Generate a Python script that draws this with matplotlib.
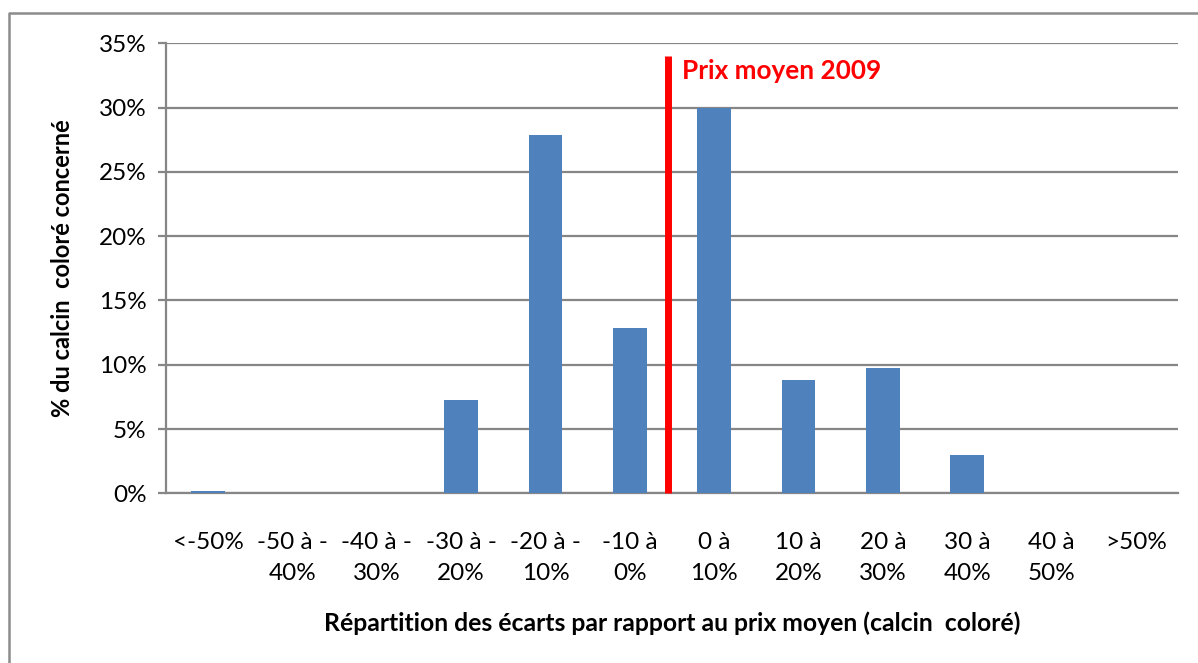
import matplotlib.pyplot as plt
from matplotlib.lines import Line2D
from matplotlib.ticker import FuncFormatter

plt.rcParams["font.family"] = ["Lato", "DejaVu Sans"]

# Data
categories = [
    "<-50%", "-50 à -\n40%", "-40 à -\n30%", "-30 à -\n20%", "-20 à -\n10%",
    "-10 à\n0%", "0 à\n10%", "10 à\n20%", "20 à\n30%", "30 à\n40%",
    "40 à\n50%", ">50%",
]
shares = [0.2, 0.0, 0.0, 7.25, 27.9, 12.85, 29.95, 8.8, 9.75, 3.0, 0.0, 0.0]
mean_price_pos = 5.45  # between "-10 à 0%" and "0 à 10%"
mean_line_top = 34.0
yticks = [0, 5, 10, 15, 20, 25, 30, 35]

W, H = 1198, 663
fig = plt.figure(figsize=(W / 100, H / 100), dpi=100)
fig.patch.set_facecolor("white")

# plot area in pixels: x 166..1178, y 43..493
ax = fig.add_axes((166 / W, (H - 493.3) / H, (1178 - 166) / W, (493.3 - 43.3) / H))

grid_col = "#868686"
x = range(len(categories))
ax.bar(x, shares, width=0.4, color="#4F81BD", zorder=3)

ax.set_xlim(-0.5, len(categories) - 0.5)
ax.set_ylim(0, 35)
ax.set_yticks(yticks)
ax.yaxis.set_major_formatter(FuncFormatter(lambda v, p: f"{v:.0f}%"))
ax.set_xticks(list(x))
ax.set_xticklabels(categories, linespacing=1.55)
ax.grid(axis="y", color=grid_col, lw=1.6, zorder=0)
ax.set_axisbelow(True)

for side in ["top", "right"]:
    ax.spines[side].set_visible(False)
for side in ["left", "bottom"]:
    ax.spines[side].set_color(grid_col)
    ax.spines[side].set_linewidth(1.6)

ax.tick_params(axis="y", length=6, width=1.6, color=grid_col, pad=8,
               labelsize=17.5, labelcolor="black")
ax.tick_params(axis="x", length=0, pad=28, labelsize=17.5, labelcolor="black")

# mean price marker
ax.plot([mean_price_pos, mean_price_pos], [0, mean_line_top], color="red",
        lw=5, solid_capstyle="butt", zorder=4, clip_on=False)
ax.text(mean_price_pos + 0.17, mean_line_top - 0.2, "Prix moyen 2009", color="red",
        fontsize=18.8, fontweight="bold", va="top", ha="left")

ax.set_ylabel("% du calcin  coloré concerné", fontsize=17, fontweight="bold",
              labelpad=18)
ax.set_xlabel("Répartition des écarts par rapport au prix moyen (calcin  coloré)",
              fontsize=17.8, fontweight="bold", labelpad=20)

# chart area border (top and left edges visible)
fig.add_artist(Line2D([8.5 / W, 8.5 / W, 1.0], [0.0, 1 - 13 / H, 1 - 13 / H],
                      transform=fig.transFigure, color="#8c8c8c", lw=1.8))

fig.savefig("out.png", dpi=100)
